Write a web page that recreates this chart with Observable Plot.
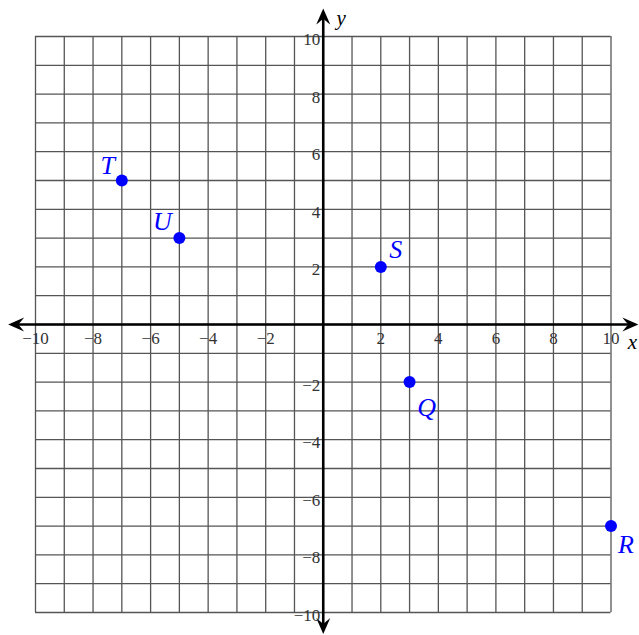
<!DOCTYPE html>
<html><head><meta charset="utf-8">
<script src="https://cdn.jsdelivr.net/npm/d3@7"></script>
<script src="https://cdn.jsdelivr.net/npm/@observablehq/plot@0.6"></script>
<style>body{margin:0;background:#fff}#chart svg{display:block}</style>
</head><body><div id="chart"></div>
<script>
// ---- data ----
const pointNames = ["T", "U", "S", "Q", "R"];
const pointX = [-7, -5, 2, 3, 10];
const pointY = [5, 3, 2, -2, -7];
const xTickValues = [-10, -8, -6, -4, -2, 2, 4, 6, 8, 10];
const yTickValues = [10, 8, 6, 4, 2, -2, -4, -6, -8, -10];
const gridValues = [-10,-9,-8,-7,-6,-5,-4,-3,-2,-1,0,1,2,3,4,5,6,7,8,9,10];
const axisNames = ["x", "y"];

// ---- layout / style (not data) ----
const axisReach = {xMin: -10.95, xMax: 10.95, yMin: -10.75, yMax: 10.97};
const labelOffset = {T: [-14, -15], U: [-17, -16], S: [15, -17], Q: [17, 26], R: [15, 19]};
const fmt = v => (v < 0 ? "\u2212" + Math.abs(v) : String(v));

const points = pointNames.map((name, i) => ({name, x: pointX[i], y: pointY[i]}));

const arrowSymbol = {
  draw(ctx) {
    ctx.moveTo(0, 0);
    ctx.lineTo(-16, -7);
    ctx.quadraticCurveTo(-12, -2, -10, 0);
    ctx.quadraticCurveTo(-12, 2, -16, 7);
    ctx.closePath();
  }
};
const arrowHeads = [
  {x: axisReach.xMax, y: 0, r: 0},
  {x: axisReach.xMin, y: 0, r: 180},
  {x: 0, y: axisReach.yMax, r: -90},
  {x: 0, y: axisReach.yMin, r: 90}
];

const serif = "'Liberation Serif', 'DejaVu Serif', serif";

const chart = Plot.plot({
  width: 639,
  height: 635,
  marginLeft: 35,
  marginRight: 28.5,
  marginTop: 36,
  marginBottom: 23,
  x: {domain: [-10, 10], axis: null},
  y: {domain: [-10, 10], axis: null},
  style: {fontFamily: serif, background: "#fff", overflow: "visible"},
  marks: [
    Plot.ruleX(gridValues, {x: d => d, y1: -10, y2: 10, stroke: "#555", strokeWidth: 1.3}),
    Plot.ruleY(gridValues, {y: d => d, x1: -10, x2: 10, stroke: "#555", strokeWidth: 1.3}),
    Plot.ruleY([0], {x1: axisReach.xMin + 0.3, x2: axisReach.xMax - 0.3, stroke: "#000", strokeWidth: 2.6}),
    Plot.ruleX([0], {y1: axisReach.yMin + 0.3, y2: axisReach.yMax - 0.3, stroke: "#000", strokeWidth: 2.6}),
    Plot.dot(arrowHeads, {x: "x", y: "y", rotate: "r", symbol: arrowSymbol, fill: "#000", stroke: "none", r: 5}),
    Plot.text(xTickValues, {x: d => d, y: 0, text: fmt, dy: 14, textAnchor: "middle", fontSize: 17, fill: "#333"}),
    Plot.text(yTickValues, {x: 0, y: d => d, text: fmt, dx: -3, dy: 3, textAnchor: "end", fontSize: 17, fill: "#333"}),
    Plot.text([axisNames[0]], {x: axisReach.xMax, y: 0, text: d => d, dx: -6, dy: 18, fontSize: 21, fontStyle: "italic", fill: "#000"}),
    Plot.text([axisNames[1]], {x: 0, y: axisReach.yMax, text: d => d, dx: 18, dy: 10, fontSize: 21, fontStyle: "italic", fill: "#000"}),
    Plot.dot(points, {x: "x", y: "y", r: 6, fill: "#0000ff", stroke: "none"}),
    ...points.map(p => Plot.text([p], {
      x: "x", y: "y", text: "name",
      dx: labelOffset[p.name][0], dy: labelOffset[p.name][1],
      fontSize: 26, fontStyle: "italic", fill: "#0000ff"
    }))
  ]
});
document.getElementById("chart").append(chart);
</script>
</body></html>
